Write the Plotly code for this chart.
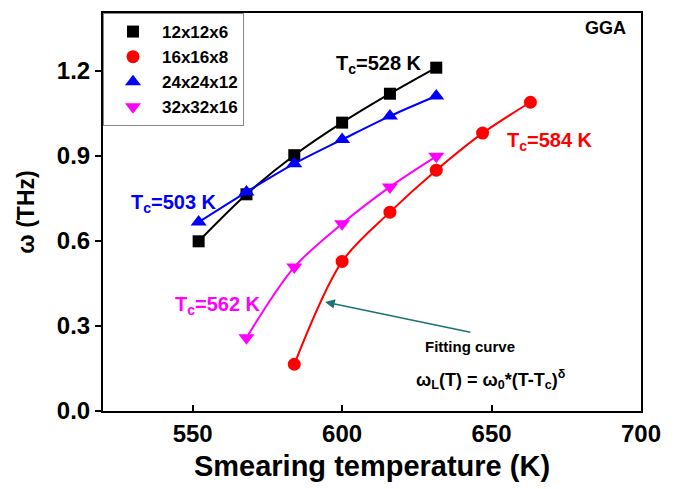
import plotly.graph_objects as go

# Data
names = ["12x12x6", "16x16x8", "24x24x12", "32x32x16"]
colors = ["#000000", "#ff0000", "#0000ff", "#ff00ff"]
symbols = ["square", "circle", "triangle-up", "triangle-down"]

T_12 = [552, 568, 584, 600, 616, 631.5]
w_12 = [0.599, 0.765, 0.903, 1.018, 1.120, 1.212]

T_16 = [584, 600, 616, 631.5, 647, 663]
w_16 = [0.165, 0.528, 0.702, 0.850, 0.981, 1.090]

T_24 = [552, 568, 584, 600, 616, 631.5]
w_24 = [0.667, 0.773, 0.873, 0.958, 1.041, 1.112]

T_32 = [568, 584, 600, 616, 631.5]
w_32 = [0.259, 0.508, 0.661, 0.791, 0.899]

series_T = [T_12, T_16, T_24, T_32]
series_w = [w_12, w_16, w_24, w_32]
marker_sizes = [12, 13, 14, 14]

tc_labels = ["T<sub>c</sub>=528 K", "T<sub>c</sub>=584 K", "T<sub>c</sub>=503 K", "T<sub>c</sub>=562 K"]
tc_x = [612.2, 669.6, 543.8, 558.4]
tc_y = [1.222, 0.950, 0.732, 0.372]
tc_colors = ["#000000", "#ff0000", "#0000ff", "#ff00ff"]

FONT = "Liberation Sans, Arial, sans-serif"

fig = go.Figure()

for T, w, c, s, n, ms in zip(series_T, series_w, colors, symbols, names, marker_sizes):
    fig.add_trace(go.Scatter(
        x=T, y=w, mode="lines+markers", showlegend=False,
        line=dict(color=c, width=2, shape="spline", smoothing=0.9),
        marker=dict(color=c, symbol=s, size=ms, line=dict(width=0)),
    ))
    fig.add_trace(go.Scatter(
        x=[None], y=[None], mode="markers", name=n,
        marker=dict(color=c, symbol=s, size=ms, line=dict(width=0)),
    ))

for lab, xx, yy, cc in zip(tc_labels, tc_x, tc_y, tc_colors):
    fig.add_annotation(x=xx, y=yy, text=lab, showarrow=False,
                       font=dict(family=FONT, size=20, color=cc, weight="bold"))

fig.add_annotation(x=688.0, y=1.351, text="GGA", showarrow=False,
                   font=dict(family=FONT, size=18, color="#000", weight="bold"))

# Arrow to fitting curve
fig.add_annotation(x=594.3, y=0.385, ax=643.4, ay=0.277, axref="x", ayref="y",
                   text="", showarrow=True, arrowhead=2, arrowsize=1.2,
                   arrowwidth=1.6, arrowcolor="#1d7272")

fig.add_annotation(x=642.9, y=0.226, text="Fitting curve", showarrow=False,
                   font=dict(family=FONT, size=15, color="#000", weight="bold"))
fig.add_annotation(x=649.8, y=0.112,
                   text="ω<sub>L</sub>(T) = ω<sub>0</sub>*(T-T<sub>c</sub>)<sup>δ</sup>",
                   showarrow=False,
                   font=dict(family=FONT, size=18, color="#000", weight="bold"))

# Page body has an 8px default margin, so the figure is offset by 8px.
fig.update_layout(
    width=673, height=481,
    margin=dict(l=95, r=40, t=5, b=78),
    paper_bgcolor="white", plot_bgcolor="white",
    font=dict(family=FONT, color="#000"),
    legend=dict(x=0, y=1, xanchor="left", yanchor="top",
                bgcolor="white", bordercolor="#888", borderwidth=1,
                font=dict(family=FONT, size=17, color="#000", weight="bold"),
                itemwidth=48, tracegroupgap=0),
)

fig.update_xaxes(
    range=[520, 700], tickvals=[550, 600, 650, 700], automargin=False,
    ticks="inside", ticklen=6, tickwidth=2, tickcolor="#000",
    showline=True, linewidth=2, linecolor="#000", mirror=True,
    showgrid=False, zeroline=False,
    tickfont=dict(family=FONT, size=24, color="#000", weight="bold"),
    title=dict(text="Smearing temperature (K)", standoff=10,
               font=dict(family=FONT, size=29, color="#000", weight="bold")),
)
fig.update_yaxes(
    range=[0, 1.405], tickvals=[0.0, 0.3, 0.6, 0.9, 1.2], tickformat=".1f",
    automargin=False,
    ticks="outside", ticklen=6, tickwidth=2, tickcolor="#000",
    showline=True, linewidth=2, linecolor="#000", mirror=True,
    showgrid=False, zeroline=False,
    tickfont=dict(family=FONT, size=24, color="#000", weight="bold"),
    title=dict(text="ω (THz)", standoff=16,
               font=dict(family=FONT, size=23, color="#000", weight="bold")),
)

fig.write_html("out.html")
